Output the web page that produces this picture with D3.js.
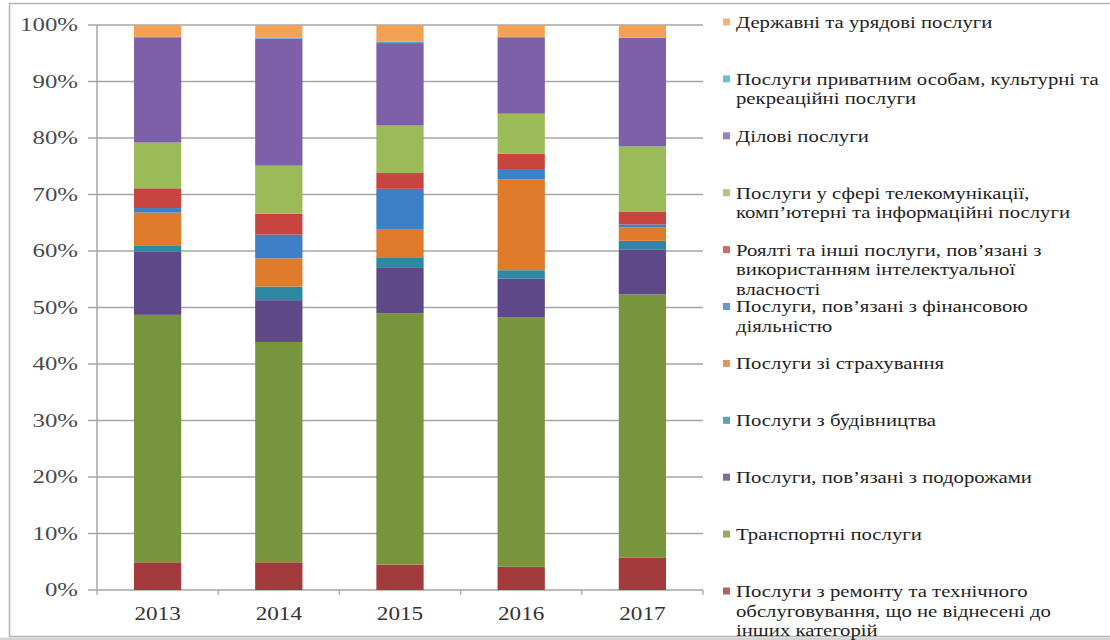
<!DOCTYPE html>
<html>
<head>
<meta charset="utf-8">
<script src="https://cdn.jsdelivr.net/npm/d3@7"></script>
<style>
  html, body { margin: 0; padding: 0; background: #fff; }
  svg { display: block; }
</style>
</head>
<body>
<svg id="chart" width="1110" height="640"></svg>
<script>
// Years on the x axis
const years = ["2013", "2014", "2015", "2016", "2017"];

// Shares of each service type in total exports, % (stacked bottom to top)
const repair       = [4.9, 4.9, 4.5, 4.1, 5.7];
const transport    = [43.8, 39.0, 44.5, 44.2, 46.6];
const travel       = [11.2, 7.4, 8.0, 6.8, 8.0];
const construction = [1.0, 2.4, 1.9, 1.5, 1.5];
const insurance    = [5.9, 5.0, 5.0, 16.1, 2.4];
const financial    = [0.8, 4.2, 7.1, 1.8, 0.5];
const royalties    = [3.5, 3.7, 2.8, 2.7, 2.3];
const telecom      = [8.1, 8.5, 8.4, 7.1, 11.5];
const business     = [18.5, 22.5, 14.6, 13.4, 19.2];
const personal     = [0.2, 0.2, 0.3, 0.2, 0.1];
const government   = [2.1, 2.2, 2.9, 2.1, 2.2];

const yTicks = [0, 10, 20, 30, 40, 50, 60, 70, 80, 90, 100];

// Series, bottom of the stack first
const series = [
  { key: "repair", values: repair, color: "#A33B3C",
    label: ["Послуги з ремонту та технічного", "обслуговування, що не віднесені до", "інших категорій"] },
  { key: "transport", values: transport, color: "#78953E",
    label: ["Транспортні послуги"] },
  { key: "travel", values: travel, color: "#5F4887",
    label: ["Послуги, пов’язані з подорожами"] },
  { key: "construction", values: construction, color: "#2F88A3",
    label: ["Послуги з будівництва"] },
  { key: "insurance", values: insurance, color: "#E07B2C",
    label: ["Послуги зі страхування"] },
  { key: "financial", values: financial, color: "#3D80C8",
    label: ["Послуги, пов’язані з фінансовою", "діяльністю"] },
  { key: "royalties", values: royalties, color: "#C8453F",
    label: ["Роялті та інші послуги, пов’язані з", "використанням інтелектуальної", "власності"] },
  { key: "telecom", values: telecom, color: "#9BBB59",
    label: ["Послуги у сфері телекомунікації,", "комп’ютерні та інформаційні послуги"] },
  { key: "business", values: business, color: "#7E60A8",
    label: ["Ділові послуги"] },
  { key: "personal", values: personal, color: "#4BACC6",
    label: ["Послуги приватним особам, культурні та", "рекреаційні послуги"] },
  { key: "government", values: government, color: "#F4A158",
    label: ["Державні та урядові послуги"] }
];

const FONT = "'Liberation Serif', 'Times New Roman', serif";
const STRETCH = 1.22;   // text is drawn horizontally widened
const Y_STRETCH = 1.38; // percentage labels are a little wider still

const svg = d3.select("#chart");
const W = 1110, H = 640;

// Frame around the whole chart
svg.append("rect").attr("x", 0).attr("y", 0).attr("width", W).attr("height", H).attr("fill", "#fff");
svg.append("rect")
  .attr("x", 9.5).attr("y", 3.5).attr("width", W).attr("height", 633)
  .attr("fill", "none").attr("stroke", "#b4b4b4").attr("stroke-width", 1.5);
svg.append("rect").attr("x", 0).attr("y", 637.5).attr("width", W).attr("height", 3).attr("fill", "#d4d4d4");

const plot = { left: 97, right: 703, top: 25, bottom: 590 };

const x = d3.scaleBand()
  .domain(years)
  .range([plot.left, plot.right])
  .paddingInner(0.61)
  .paddingOuter(0.305);

const y = d3.scaleLinear().domain([0, 100]).range([plot.bottom, plot.top]);

// Gridlines
svg.append("g")
  .selectAll("line")
  .data(yTicks)
  .join("line")
  .attr("x1", plot.left - 9).attr("x2", plot.right)
  .attr("y1", d => y(d)).attr("y2", d => y(d))
  .attr("stroke", "#a6a6a6").attr("stroke-width", 1.3);

// Y axis line
svg.append("line")
  .attr("x1", plot.left).attr("x2", plot.left)
  .attr("y1", y(100)).attr("y2", y(0))
  .attr("stroke", "#a6a6a6").attr("stroke-width", 1.5);

// Y axis labels
svg.append("g")
  .selectAll("g")
  .data(yTicks)
  .join("g")
  .attr("transform", d => `translate(78,${y(d)}) scale(${Y_STRETCH},1)`)
  .append("text")
  .attr("dy", "0.35em")
  .attr("text-anchor", "end")
  .attr("font-family", FONT)
  .attr("font-size", 18)
  .attr("fill", "#4a4a4a")
  .text(d => d + "%");

// X axis tick marks between categories
const step = x.step();
svg.append("g")
  .selectAll("line")
  .data(d3.range(years.length + 1))
  .join("line")
  .attr("x1", i => plot.left + i * step).attr("x2", i => plot.left + i * step)
  .attr("y1", y(0)).attr("y2", y(0) + 5)
  .attr("stroke", "#a6a6a6").attr("stroke-width", 1.3);

// X axis labels
svg.append("g")
  .selectAll("g")
  .data(years)
  .join("g")
  .attr("transform", d => `translate(${x(d) + x.bandwidth() / 2},620) scale(${STRETCH},1)`)
  .append("text")
  .attr("text-anchor", "middle")
  .attr("font-family", FONT)
  .attr("font-size", 19)
  .attr("fill", "#333")
  .text(d => d);

// Stacked bars
const rows = years.map((yr, i) => {
  const row = { year: yr };
  series.forEach(s => { row[s.key] = s.values[i]; });
  return row;
});
const stack = d3.stack().keys(series.map(s => s.key));
const layers = stack(rows);

svg.append("g")
  .selectAll("g")
  .data(layers)
  .join("g")
  .attr("fill", (d, i) => series[i].color)
  .selectAll("rect")
  .data(d => d)
  .join("rect")
  .attr("x", d => x(d.data.year))
  .attr("width", x.bandwidth())
  .attr("y", d => y(d[1]))
  .attr("height", d => y(d[0]) - y(d[1]));

// Legend, top item is the top of the stack
const legendItems = series.slice().reverse();
const legend = svg.append("g");
const legendTop = 22, legendStep = 56.9, lineH = 19.6;

legendItems.forEach((s, i) => {
  const cy = legendTop + i * legendStep;
  legend.append("rect")
    .attr("x", 723).attr("y", cy - 3.5)
    .attr("width", 7).attr("height", 7)
    .attr("fill", s.color).attr("opacity", 0.8);
  const t = legend.append("g")
    .attr("transform", `translate(736,${cy}) scale(${STRETCH},1)`)
    .append("text")
    .attr("font-family", FONT)
    .attr("font-size", 17)
    .attr("fill", "#1f1f1f");
  s.label.forEach((line, j) => {
    t.append("tspan")
      .attr("x", 0)
      .attr("y", j * lineH)
      .attr("dy", "0.35em")
      .text(line);
  });
});
</script>
</body>
</html>
